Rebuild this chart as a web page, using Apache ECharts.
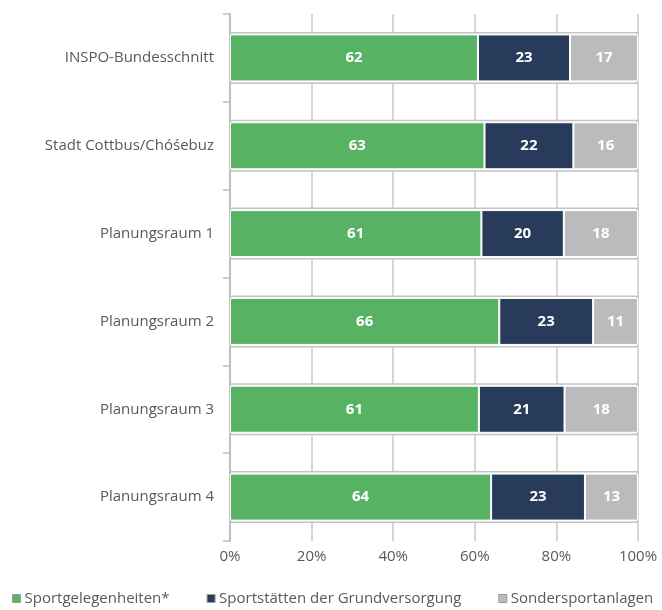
<!DOCTYPE html>
<html>
<head>
<meta charset="utf-8">
<script src="https://cdn.jsdelivr.net/npm/echarts@6/dist/echarts.min.js"></script>
<style>
  html, body { margin: 0; padding: 0; background: #fff; }
  #chart { width: 662px; height: 610px; }
</style>
</head>
<body>
<div id="chart"></div>
<script>
var categories = ['INSPO-Bundesschnitt', 'Stadt Cottbus/Chóśebuz', 'Planungsraum 1',
  'Planungsraum 2', 'Planungsraum 3', 'Planungsraum 4'];
var seriesNames = ['Sportgelegenheiten*', 'Sportstätten der Grundversorgung', 'Sondersportanlagen'];
var sportgelegenheiten = [62, 63, 61, 66, 61, 64];
var grundversorgung = [23, 22, 20, 23, 21, 23];
var sondersport = [17, 16, 18, 11, 18, 13];
var colors = ['#57b363', '#283b5a', '#bbbbbe'];

var raw = [sportgelegenheiten, grundversorgung, sondersport];
// bars are drawn as shares of the row total (100% stacked)
var totals = categories.map(function (c, i) {
  return raw[0][i] + raw[1][i] + raw[2][i];
});

var font = '"Open Sans", "Noto Sans", sans-serif';

var series = raw.map(function (vals, k) {
  return {
    name: seriesNames[k],
    type: 'bar',
    stack: 'all',
    barWidth: 47,
    yAxisIndex: 0,
    z: 3,
    data: vals.map(function (v, i) {
      return { value: v / totals[i] * 100, raw: v };
    }),
    itemStyle: { color: colors[k], borderColor: '#fff', borderWidth: 1 },
    label: {
      show: true,
      position: 'inside',
      color: '#fff',
      fontFamily: font,
      fontWeight: 'bold',
      fontSize: 15,
      formatter: function (p) { return p.data.raw; }
    }
  };
});

// grey frame round each bar
series.push({
  name: 'frame',
  type: 'bar',
  yAxisIndex: 1,
  barWidth: 52,
  z: 1,
  silent: true,
  data: categories.map(function () { return 100; }),
  itemStyle: { color: '#fff', borderColor: '#c4c4c4', borderWidth: 1.5 },
  label: { show: false }
});

var chart = echarts.init(document.getElementById('chart'));
chart.setOption({
  animation: false,
  grid: { left: 230, right: 24, top: 14, bottom: 69, containLabel: false },
  legend: {
    data: seriesNames,
    left: 7,
    top: 586,
    itemWidth: 8,
    itemHeight: 8,
    itemGap: 37,
    icon: 'rect',
    itemStyle: { borderColor: '#9a9a9a', borderWidth: 1 },
    textStyle: { color: '#595959', fontFamily: font, fontSize: 15, padding: [0, 0, 0, -1] }
  },
  xAxis: {
    type: 'value',
    min: 0,
    max: 100,
    interval: 20,
    axisLine: { show: false },
    axisTick: { show: false },
    splitLine: { lineStyle: { color: '#c8c8c8', width: 1.5 } },
    axisLabel: {
      color: '#595959',
      fontFamily: font,
      fontSize: 15,
      margin: 8,
      formatter: '{value}%'
    }
  },
  yAxis: [{
    type: 'category',
    data: categories,
    inverse: true,
    axisLine: { lineStyle: { color: '#bfbfbf', width: 2 } },
    axisTick: { show: true, length: 7, lineStyle: { color: '#bfbfbf', width: 1.5 } },
    axisLabel: { color: '#595959', fontFamily: font, fontSize: 15, margin: 16 },
    splitLine: { show: false }
  }, {
    type: 'category',
    data: categories,
    inverse: true,
    show: false
  }],
  series: series
});
</script>
</body>
</html>
